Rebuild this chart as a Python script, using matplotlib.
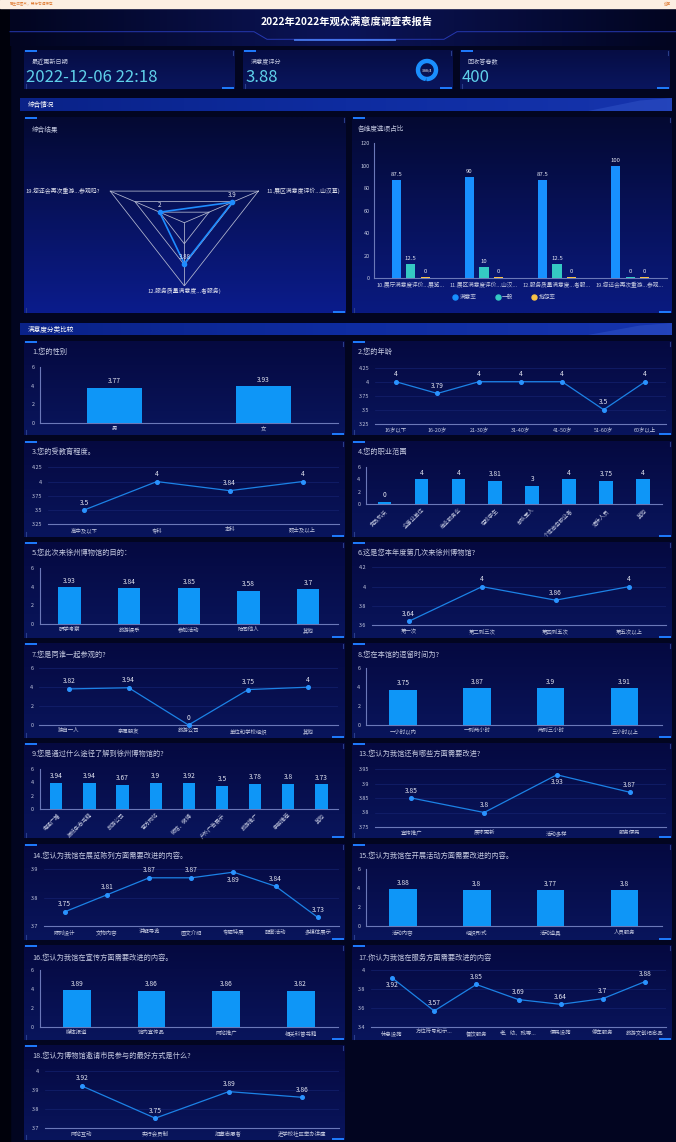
import matplotlib
matplotlib.use("Agg")
import matplotlib.pyplot as plt
import numpy as np
from matplotlib.colors import LinearSegmentedColormap
from matplotlib.lines import Line2D
from matplotlib.patches import Polygon, Rectangle, Wedge

plt.rcParams["font.family"] = ["Noto Sans CJK SC", "DejaVu Sans"]

W, H = 676, 1142

# ---------------- data ----------------
report_title = "2022年2022年观众满意度调查表报告"
update_time = "2022-12-06 22:18"
score = 3.88
score_max = 4
answer_count = 400

radar_names = ["11.展区满意度评价...山汉墓)", "19.您还会再次重游...参观吗?", "12.服务质量满意度...者服务)"]
radar_vals = [3.9, 2, 3.88]
radar_max = 6

dim_names = ["10.展厅满意度评价...展览...", "11.展区满意度评价...山汉...",
             "12.服务质量满意度...者服...", "19.您还会再次重游...参观..."]
sat_rate = [87.5, 90, 87.5, 100]
normal_rate = [12.5, 10, 12.5, 0]
complain_rate = [0, 0, 0, 0]

gender_cats = ["男", "女"]
gender_vals = [3.77, 3.93]
age_cats = ["16岁以下", "16-20岁", "21-30岁", "31-40岁", "41-50岁", "51-60岁", "60岁以上"]
age_vals = [4, 3.79, 4, 4, 4, 3.5, 4]
edu_cats = ["高中及以下", "专科", "本科", "硕士及以上"]
edu_vals = [3.5, 4, 3.84, 4]
job_cats = ["党政机关", "企事业单位", "商业服务业", "在校学生", "部队军人", "个体自由职业者", "退休人员", "其他"]
job_vals = [0, 4, 4, 3.81, 3, 4, 3.75, 4]
purpose_cats = ["研学考察", "旅游娱乐", "参加活动", "陪同他人", "其他"]
purpose_vals = [3.93, 3.84, 3.85, 3.58, 3.7]
visit_cats = ["第一次", "第二到三次", "第四到五次", "第五次以上"]
visit_vals = [3.64, 4, 3.86, 4]
company_cats = ["独自一人", "亲属朋友", "旅游公司", "单位和学校组织", "其他"]
company_vals = [3.82, 3.94, 0, 3.75, 4]
stay_cats = ["一小时以内", "一到两小时", "两到三小时", "三小时以上"]
stay_vals = [3.75, 3.87, 3.9, 3.91]
channel_cats = ["电视广播", "报纸杂志书籍", "旅游公司", "官方网站", "微信、微博",
                "户外广告展示", "旅游推广", "亲朋推荐", "其他"]
channel_vals = [3.94, 3.94, 3.67, 3.9, 3.92, 3.5, 3.78, 3.8, 3.73]
improve_cats = ["宣传推广", "展陈更新", "活动多样", "服务便民"]
improve_vals = [3.85, 3.8, 3.93, 3.87]
exhibit_cats = ["陈列设计", "文物内容", "讲解导览", "图文介绍", "专题特展", "配套活动", "多媒体展示"]
exhibit_vals = [3.75, 3.81, 3.87, 3.87, 3.89, 3.84, 3.73]
activity_cats = ["活动内容", "组织形式", "活动道具", "人员服务"]
activity_vals = [3.88, 3.8, 3.77, 3.8]
promo_cats = ["媒体报道", "馆内宣传品", "网站推广", "相关科普书籍"]
promo_vals = [3.89, 3.86, 3.86, 3.82]
service_cats = ["休息设施", "方位符号和示...", "餐饮服务", "老、幼、残等...", "便民设施", "停车服务", "旅游文创纪念品"]
service_vals = [3.92, 3.57, 3.85, 3.69, 3.64, 3.7, 3.88]
join_cats = ["网站互动", "实行会员制", "招募志愿者", "进学校社区举办讲座"]
join_vals = [3.92, 3.75, 3.89, 3.86]

# ---------------- colours ----------------
PAGE = "#020520"
TXT = "#c4c9e0"
VAL = "#e4e6f2"
AXIS = "#6b78b8"
GRID = "#14216f"
BAR = "#0e96f7"
LINE = "#1c82e6"
CYAN = "#5fd0ea"
ACCENT = "#1f7cff"

fig = plt.figure(figsize=(W / 100, H / 100), dpi=100, facecolor=PAGE)
bg = fig.add_axes([0, 0, 1, 1])
bg.set_axis_off()
bg.set_facecolor(PAGE)


def px_axes(x0, x1, ytop, ybot):
    return fig.add_axes([x0 / W, 1 - ybot / H, (x1 - x0) / W, (ybot - ytop) / H])


def gradient(x0, x1, y0, y1, colors, horizontal=False, z=1):
    cmap = LinearSegmentedColormap.from_list("g", colors)
    g = np.linspace(0, 1, 128)
    arr = g.reshape(1, -1) if horizontal else g.reshape(-1, 1)
    bg.imshow(arr, cmap=cmap, extent=(x0, x1, y1, y0), aspect="auto",
              interpolation="bilinear", zorder=z)


def corners(x0, x1, y0, y1):
    bg.plot([x0 + 1, x0 + 13], [y0 + 1.2] * 2, color=ACCENT, lw=1.4, zorder=3, solid_capstyle="butt")
    bg.plot([x1 - 13, x1 - 1], [y1 - 1.2] * 2, color=ACCENT, lw=1.4, zorder=3, solid_capstyle="butt")
    bg.plot([x1 - 2, x1 - 2], [y0 + 1, y0 + 5], color="#2a3d8a", lw=0.8, zorder=3)
    bg.plot([x0 + 1.5, x0 + 1.5], [y1 - 5, y1 - 1], color="#2a3d8a", lw=0.8, zorder=3)


def panel(x0, x1, y0, y1, top="#050940", bottom="#09155c"):
    gradient(x0, x1, y0, y1, [top, bottom])
    corners(x0, x1, y0, y1)


def section(y0, y1, text):
    gradient(20, 672, y0, y1, ["#0a2288", "#0e2ca0", "#1634ad"], horizontal=True, z=2)
    bg.add_patch(Polygon([(588, y1), (640, y0 + 2.5), (672, y0), (672, y1)],
                         closed=True, color="#3e63d6", alpha=0.35, zorder=3, lw=0))
    bg.text(28, (y0 + y1) / 2, text, fontsize=4.8, color="white", va="center", zorder=4)


# ---------------- page frame ----------------
bg.add_patch(Rectangle((0, 0), W, 8, color="#fcefe2", zorder=2))
bg.text(10, 4, "已生成图片，鼠标右键保存", fontsize=2.6, color="#e0803a", va="center", zorder=3)
bg.text(671, 4, "返回", fontsize=2.6, color="#e0803a", va="center", ha="right", zorder=3)
bg.add_patch(Rectangle((0, 8), 10, H, color="#00010b", zorder=1))
gradient(10, W, 8, 46, [PAGE, "#0b1458", PAGE], horizontal=True, z=1)

bg.text(347, 22, report_title, fontsize=7.4, color="white", ha="center", va="center",
        fontweight="bold", zorder=4)
bg.plot([10, 254, 267, 444, 457, W], [31.7, 31.7, 39.3, 39.3, 31.7, 31.7],
        color="#2638b0", lw=0.7, zorder=3)
bg.plot([295, 395], [39.6, 39.6], color="#4f86ff", lw=1.4, alpha=0.8, zorder=4)

# ---------------- stat cards ----------------
cards = [(24, 235, "最近更新日期", update_time),
         (243, 453, "满意度评分", f"{score:g}"),
         (460, 670, "回收答卷数", f"{answer_count}")]
for x0, x1, label, value in cards:
    panel(x0, x1, 50, 89, "#060d44", "#0a165e")
    bg.text(x0 + 8, 62, label, fontsize=4.4, color=TXT, va="center", zorder=4)
    bg.text(x0 + 2, 77.5, value, fontsize=12, color=CYAN, va="center", zorder=4)

gx, gy, gr = 427, 70, 10.5
bg.add_patch(Wedge((gx, gy), gr, 0, 360, width=3, color="#10276c", zorder=4))
bg.add_patch(Wedge((gx, gy), gr, 90 - 360 * score / score_max, 90, width=3, color="#1a8fff", zorder=5))
bg.text(gx, gy, f"{score:g}/{score_max}", fontsize=2.6, color="white", ha="center", va="center", zorder=6)

# ---------------- overview ----------------
section(98, 111, "综合情况")
panel(24, 346, 117, 313, "#040932", "#0b1c8c")
panel(352, 672, 117, 313, "#040932", "#0a1a80")
bg.text(32, 130, "综合结果", fontsize=4.8, color=TXT, va="center", zorder=4)
bg.text(358, 129, "各维度选项占比", fontsize=4.8, color=TXT, va="center", zorder=4)

# radar (stretched like the reference)
ax = px_axes(98.7, 269.9, 159.5, 285.9)
ax.set_axis_off()
ax.set_xlim(-radar_max, radar_max)
ax.set_ylim(-radar_max, radar_max)
ang = np.deg2rad(30 + 120 * np.arange(len(radar_names)))
for lv in np.linspace(radar_max / 3, radar_max, 3):
    ax.plot(np.append(lv * np.cos(ang), lv * np.cos(ang[0])),
            np.append(lv * np.sin(ang), lv * np.sin(ang[0])), color="#b6bbd2", lw=0.55)
for a in ang:
    ax.plot([0, radar_max * np.cos(a)], [0, radar_max * np.sin(a)], color="#b6bbd2", lw=0.55)
rv = np.array(radar_vals)
rx, ry = rv * np.cos(ang), rv * np.sin(ang)
ax.plot(np.append(rx, rx[0]), np.append(ry, ry[0]), color="#1e8cff", lw=1.2, zorder=3)
ax.plot(rx, ry, "o", color="#1e8cff", ms=3, zorder=4)
for xi, yi, v in zip(rx, ry, rv):
    ax.annotate(f"{v:g}", (xi, yi), xytext=(0, 2), textcoords="offset points",
                ha="center", va="bottom", fontsize=4.4, color=VAL, zorder=5)
name_pos = [((6, 0), "left", "center"), ((-7, 0), "right", "center"), ((0, -1.5), "center", "top")]
for a, name, (off, ha, va) in zip(ang, radar_names, name_pos):
    ax.annotate(name, (radar_max * np.cos(a), radar_max * np.sin(a)), xytext=off,
                textcoords="offset points", ha=ha, va=va, fontsize=4.2, color="#e0e2ee",
                annotation_clip=False)

# grouped bar
ax = px_axes(374.3, 666.7, 143.3, 278.3)
ax.set_facecolor("none")
x = np.arange(len(dim_names))
series = [(sat_rate, "满意率", "#1890ff", -0.2),
          (normal_rate, "一般", "#35c9c3", 0.0),
          (complain_rate, "抱怨率", "#f7c247", 0.2)]
for vals, name, col, off in series:
    v = np.asarray(vals, float)
    h = np.maximum(v, 1.6)  # minimum visible bar height
    ax.bar(x + off, h, width=0.125, color=col, zorder=3)
    for xi, hi, vi in zip(x + off, h, v):
        ax.annotate(f"{vi:g}", (xi, hi), xytext=(0, 2), textcoords="offset points",
                    ha="center", va="bottom", fontsize=4.3, color=VAL)
ax.set_xlim(-0.5, len(dim_names) - 0.5)
ax.set_ylim(0, 120)
ax.set_yticks(range(0, 121, 20))
ax.set_xticks(x, dim_names)
for s in ["top", "right"]:
    ax.spines[s].set_visible(False)
for s in ["left", "bottom"]:
    ax.spines[s].set_color(AXIS)
    ax.spines[s].set_linewidth(0.8)
ax.tick_params(length=0, labelsize=4.0, colors=TXT, pad=3)
ax.tick_params(axis="x", labelsize=4.1, pad=2.5)
handles = [Line2D([], [], ls="none", marker="o", ms=3.6, color=c, label=n) for _, n, c, _ in series]
ax.legend(handles=handles, loc="center", bbox_to_anchor=(504 / W, 1 - 297.5 / H),
          bbox_transform=fig.transFigure, ncol=3, frameon=False, fontsize=4.1,
          labelcolor=TXT, handletextpad=0.3, columnspacing=3.2, handlelength=1.0)

# ---------------- category comparison ----------------
section(323, 335, "满意度分类比较")

LEFT = (24, 345)
RIGHT = (352, 672)
ROWS = [(341, 435), (441, 537), (542, 638), (643, 738), (743, 838), (844, 940), (945, 1040), (1045, 1140)]
TITLE_Y = [352, 452, 553, 655, 754, 856, 958, 1056]

charts = [
    ("L", 0, "bar", "1.您的性别", gender_cats, gender_vals, (40, 338, 367, 423), (0, 6), [0, 2, 4, 6], False),
    ("R", 0, "line", "2.您的年龄", age_cats, age_vals, (375, 666, 367.7, 423.7), (3.25, 4.25),
     [3.25, 3.5, 3.75, 4, 4.25], False),
    ("L", 1, "line", "3.您的受教育程度。", edu_cats, edu_vals, (47.6, 339, 467.3, 524.3), (3.25, 4.25),
     [3.25, 3.5, 3.75, 4, 4.25], False),
    ("R", 1, "bar", "4.您的职业范围", job_cats, job_vals, (366, 661.6, 467, 504.3), (0, 6), [0, 2, 4, 6], True),
    ("L", 2, "bar", "5.您此次来徐州博物馆的目的：", purpose_cats, purpose_vals, (39.7, 338, 568, 624), (0, 6),
     [0, 2, 4, 6], False),
    ("R", 2, "line", "6.这是您本年度第几次来徐州博物馆?", visit_cats, visit_vals, (371.8, 665.8, 567.3, 625.3),
     (3.6, 4.2), [3.6, 3.8, 4, 4.2], False),
    ("L", 3, "line", "7.您是同谁一起参观的?", company_cats, company_vals, (39, 338, 668.3, 725), (0, 6),
     [0, 2, 4, 6], False),
    ("R", 3, "bar", "8.您在本馆的逗留时间为?", stay_cats, stay_vals, (366, 661.6, 668.3, 725), (0, 6),
     [0, 2, 4, 6], False),
    ("L", 4, "bar", "9.您是通过什么途径了解到徐州博物馆的?", channel_cats, channel_vals, (39.7, 338, 769, 809),
     (0, 6), [0, 2, 4, 6], True),
    ("R", 4, "line", "13.您认为我馆还有哪些方面需要改进?", improve_cats, improve_vals, (375, 666, 769, 827),
     (3.75, 3.95), [3.75, 3.8, 3.85, 3.9, 3.95], False),
    ("L", 5, "line", "14.您认为我馆在展览陈列方面需要改进的内容。", exhibit_cats, exhibit_vals,
     (43.6, 339, 869.3, 926), (3.7, 3.9), [3.7, 3.8, 3.9], False),
    ("R", 5, "bar", "15.您认为我馆在开展活动方面需要改进的内容。", activity_cats, activity_vals,
     (366, 661.6, 869.3, 926), (0, 6), [0, 2, 4, 6], False),
    ("L", 6, "bar", "16.您认为我馆在宣传方面需要改进的内容。", promo_cats, promo_vals, (39.7, 338, 970.3, 1027),
     (0, 6), [0, 2, 4, 6], False),
    ("R", 6, "line", "17.你认为我馆在服务方面需要改进的内容", service_cats, service_vals, (371, 666, 970.3, 1027),
     (3.4, 4), [3.4, 3.6, 3.8, 4], False),
    ("L", 7, "line", "18.您认为博物馆邀请市民参与的最好方式是什么?", join_cats, join_vals,
     (45, 339, 1070.7, 1127.7), (3.7, 4.0), [3.7, 3.8, 3.9, 4], False),
]

for col, row, kind, title, cats, vals, grid, ylim, yticks, rotate in charts:
    x0, x1 = LEFT if col == "L" else RIGHT
    y0, y1 = ROWS[row]
    panel(x0, x1, y0, y1)
    bg.text(x0 + 8 if col == "L" else x0 + 6, TITLE_Y[row], title, fontsize=5.2, color=TXT,
            va="center", zorder=4)

    ax = px_axes(*grid)
    ax.set_facecolor("none")
    xs = np.arange(len(cats))
    v = np.asarray(vals, float)
    if kind == "bar":
        h = np.maximum(v, 0.4)  # minimum visible bar height
        ax.bar(xs, h, width=0.37, color=BAR, zorder=3)
        for xi, hi, vi in zip(xs, h, v):
            ax.annotate(f"{vi:g}", (xi, hi), xytext=(0, 1.8), textcoords="offset points",
                        ha="center", va="bottom", fontsize=4.8, color=VAL, zorder=4)
    else:
        for yt in yticks[1:]:
            ax.axhline(yt, color=GRID, lw=0.5, zorder=1)
        ax.plot(xs, v, color=LINE, lw=0.9, marker="o", ms=2.6, mfc="#2a93ff", mec="#2a93ff",
                zorder=3, clip_on=False)
        span = ylim[1] - ylim[0]
        for xi, vi in zip(xs, v):
            below = (ylim[1] - vi) / span < 0.14
            ax.annotate(f"{vi:g}", (xi, vi), xytext=(0, -2.5 if below else 2.5),
                        textcoords="offset points", ha="center", va="top" if below else "bottom",
                        fontsize=4.8, color=VAL, zorder=4)
    ax.set_xlim(-0.5, len(cats) - 0.5)
    ax.set_ylim(*ylim)
    ax.set_yticks(yticks, [f"{t:g}" for t in yticks])
    ax.set_xticks(xs, cats)
    for s in ["top", "right"]:
        ax.spines[s].set_visible(False)
    ax.spines["left"].set_visible(kind == "bar")
    for s in ["left", "bottom"]:
        ax.spines[s].set_color(AXIS)
        ax.spines[s].set_linewidth(0.8)
    ax.tick_params(length=0, labelsize=3.9, colors=TXT)
    ax.tick_params(axis="y", pad=4)
    ax.tick_params(axis="x", pad=2.2)
    if rotate:
        plt.setp(ax.get_xticklabels(), rotation=45, ha="right", va="top", rotation_mode="anchor")

bg.set_xlim(0, W)
bg.set_ylim(H, 0)

fig.savefig("out.png", dpi=100, facecolor=PAGE)
